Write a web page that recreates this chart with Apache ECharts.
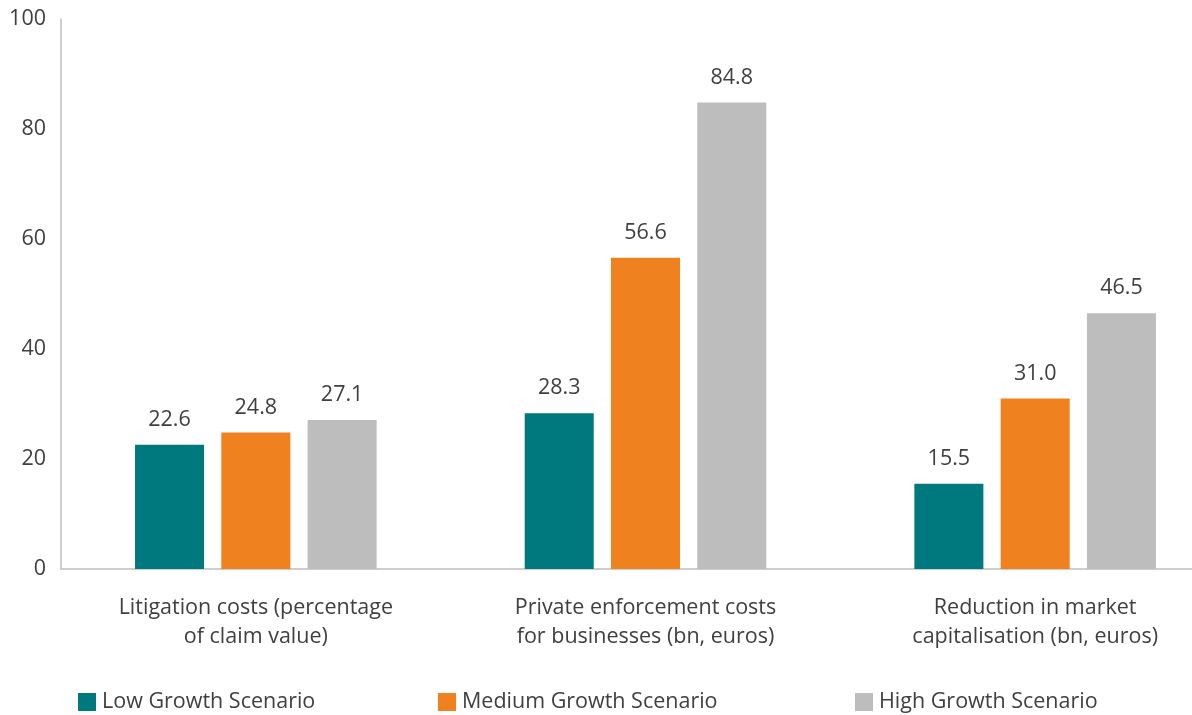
<!DOCTYPE html>
<html>
<head>
<meta charset="utf-8">
<script src="https://cdn.jsdelivr.net/npm/echarts@6/dist/echarts.min.js"></script>
<style>html,body{margin:0;padding:0;background:#fff}#c{width:1192px;height:715px}</style>
</head>
<body>
<div id="c"></div>
<script>
const categories = ["Litigation costs (percentage\nof claim value)", "Private enforcement costs\nfor businesses (bn, euros)", "Reduction in market\ncapitalisation (bn, euros)"];
const seriesNames = ["Low Growth Scenario", "Medium Growth Scenario", "High Growth Scenario"];
const lowValues = [22.6, 28.3, 15.5];
const mediumValues = [24.8, 56.6, 31.0];
const highValues = [27.1, 84.8, 46.5];
const yTicks = {min: 0, max: 100, interval: 20};

const colors = ["#00797E", "#EF821E", "#BDBDBD"];
const font = "Open Sans";
const textColor = "#404040";
const fs = 21.5;
const values = [lowValues, mediumValues, highValues];

const chart = echarts.init(document.getElementById('c'));
const legendLefts = [78, 438, 855];
chart.setOption({
  animation: false,
  textStyle: {fontFamily: font},
  grid: {left: 61, width: 1169, top: 19, bottom: 146, containLabel: false, outerBoundsMode: 'none'},
  legend: seriesNames.map((n, i) => ({
    data: [n], left: legendLefts[i], top: 691, padding: 0, itemWidth: 18, itemHeight: 18, icon: 'rect',
    itemGap: 8, textStyle: {fontFamily: font, fontSize: fs, color: textColor, padding: [0, 0, 0, 1]}
  })),
  xAxis: {
    type: 'category', data: categories,
    axisLine: {lineStyle: {color: '#BFBFBF', width: 1.5}},
    axisTick: {show: false},
    axisLabel: {fontFamily: font, fontSize: fs, color: textColor, margin: 24, lineHeight: 29, interval: 0}
  },
  yAxis: {
    type: 'value', min: yTicks.min, max: yTicks.max, interval: yTicks.interval,
    axisLine: {show: true, lineStyle: {color: '#BFBFBF', width: 1.5}},
    axisTick: {show: false},
    splitLine: {show: false},
    axisLabel: {fontFamily: font, fontSize: fs, color: textColor, margin: 15}
  },
  series: seriesNames.map((n, i) => ({
    name: n, type: 'bar', data: values[i], barGap: '25%', barCategoryGap: '38%',
    itemStyle: {color: colors[i]},
    label: {show: true, position: 'top', distance: 14, fontFamily: font, fontSize: fs, color: textColor,
      formatter: p => p.value.toFixed(1)}
  }))
});
</script>
</body>
</html>
